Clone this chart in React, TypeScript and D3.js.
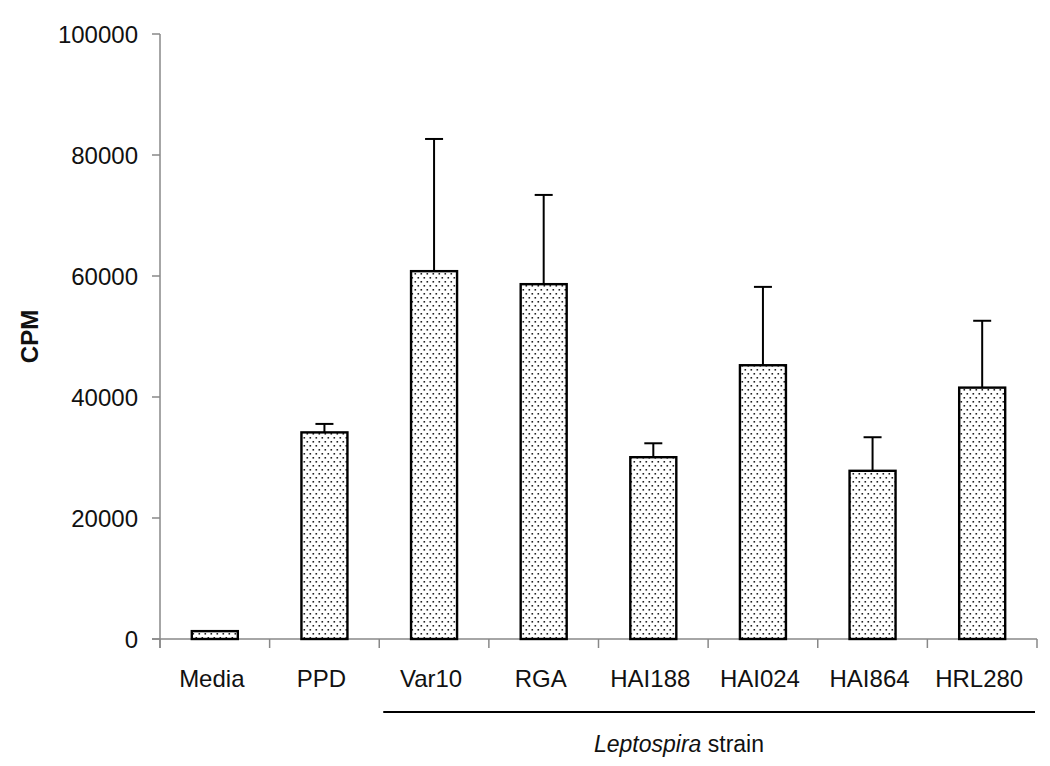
import React from 'react';
import * as d3 from 'd3';

const strains = ['Media', 'PPD', 'Var10', 'RGA', 'HAI188', 'HAI024', 'HAI864', 'HRL280'];
const cpm = [1300, 34150, 60800, 58650, 30050, 45250, 27800, 41550];
const errTop = [1300, 35550, 82650, 73400, 32350, 58200, 33350, 52600];
const yTicks = [0, 20000, 40000, 60000, 80000, 100000];
const leptoStart = 'Var10';

const W = 1050, H = 766;
const font = 'Arial, "Liberation Sans", Helvetica, sans-serif';

export default function App() {
  const x = d3.scaleBand().domain(strains).range([160, 1037]).paddingInner(0).paddingOuter(0);
  const y = d3.scaleLinear().domain([0, 100000]).range([639, 34]);
  const bw = 46;
  const cap = 18;
  const y0 = y(0);
  const bounds = strains.map(s => x(s)!).concat([x.range()[1]]);
  const lineX1 = x(leptoStart)! + 4;
  const lineX2 = x.range()[1] - 2;

  return (
    <svg width={W} height={H} style={{ position: 'absolute', left: 0, top: 0, background: '#fff' }}>
      <defs>
        <pattern id="dots" width={6} height={8} patternUnits="userSpaceOnUse">
          <rect width={6} height={8} fill="#fff" />
          <rect x={0.5} y={1} width={1.6} height={1.6} fill="#222" />
          <rect x={3.5} y={5} width={1.6} height={1.6} fill="#222" />
        </pattern>
      </defs>
      {/* y axis */}
      <line x1={160} x2={160} y1={y(100000)} y2={648} stroke="#888" strokeWidth={1.5} />
      {yTicks.map(t => (
        <g key={t}>
          <line x1={152} x2={160} y1={y(t)} y2={y(t)} stroke="#888" strokeWidth={1.5} />
          <text x={138} y={y(t)} textAnchor="end" dominantBaseline="central" fontFamily={font} fontSize={24} fill="#111">{t}</text>
        </g>
      ))}
      <text transform={`translate(29,${(y(0) + y(100000)) / 2}) rotate(-90)`} textAnchor="middle" dominantBaseline="central" fontFamily={font} fontSize={24} fontWeight="bold" fill="#111">CPM</text>
      {/* x axis */}
      <line x1={152} x2={x.range()[1]} y1={y0} y2={y0} stroke="#888" strokeWidth={1.5} />
      {bounds.map((b, i) => (
        <line key={i} x1={b} x2={b} y1={y0} y2={648} stroke="#888" strokeWidth={1.5} />
      ))}
      {strains.map((s, i) => {
        const cx = x(s)! + x.bandwidth() / 2;
        return (
          <g key={s}>
            {errTop[i] > cpm[i] && (
              <g stroke="#000" strokeWidth={2}>
                <line x1={cx} x2={cx} y1={y(cpm[i])} y2={y(errTop[i])} />
                <line x1={cx - cap / 2} x2={cx + cap / 2} y1={y(errTop[i])} y2={y(errTop[i])} />
              </g>
            )}
            <rect x={cx - bw / 2} y={y(cpm[i])} width={bw} height={y0 - y(cpm[i])} fill="url(#dots)" stroke="#000" strokeWidth={2.4} />
            <text x={cx - 3} y={687} textAnchor="middle" fontFamily={font} fontSize={24} fill="#111">{s}</text>
          </g>
        );
      })}
      <line x1={lineX1} x2={lineX2} y1={712} y2={712} stroke="#000" strokeWidth={1.8} />
      <text x={679} y={752} textAnchor="middle" fontFamily={font} fontSize={23} fill="#111">
        <tspan fontStyle="italic">Leptospira</tspan> strain
      </text>
    </svg>
  );
}
